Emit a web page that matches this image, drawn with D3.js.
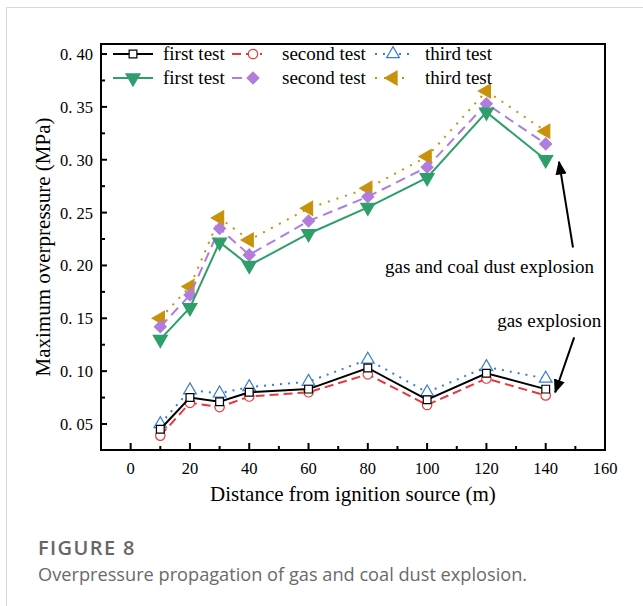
<!DOCTYPE html>
<html>
<head>
<meta charset="utf-8">
<script src="https://cdn.jsdelivr.net/npm/d3@7"></script>
<style>
    body { margin: 0; background: #fff; }
    #card { position: absolute; left: 6px; top: 7px; width: 700px; height: 700px;
            border-left: 1px solid #d9d9d9; border-top: 1px solid #d9d9d9; }
    svg { position: absolute; left: 0; top: 0; }
</style>
</head>
<body>
<div id="card"></div>
<script>
// distances (m)
const distances = [10, 20, 30, 40, 60, 80, 100, 120, 140];
// gas explosion
const gasFirst  = [0.045, 0.075, 0.071, 0.080, 0.083, 0.103, 0.073, 0.098, 0.083];
const gasSecond = [0.039, 0.070, 0.066, 0.076, 0.080, 0.097, 0.068, 0.093, 0.077];
const gasThird  = [0.050, 0.082, 0.079, 0.085, 0.090, 0.111, 0.080, 0.104, 0.093];
// gas and coal dust explosion
const dustFirst  = [0.130, 0.160, 0.222, 0.200, 0.230, 0.255, 0.283, 0.345, 0.300];
const dustSecond = [0.142, 0.172, 0.235, 0.210, 0.242, 0.265, 0.293, 0.353, 0.315];
const dustThird  = [0.150, 0.180, 0.245, 0.224, 0.254, 0.273, 0.303, 0.365, 0.327];

const xTicks = [0, 20, 40, 60, 80, 100, 120, 140, 160];
const xMinor = [10, 30, 50, 70, 90, 110, 130, 150];
const yTicks = [0.05, 0.10, 0.15, 0.20, 0.25, 0.30, 0.35, 0.40];
const yMinor = [0.075, 0.125, 0.175, 0.225, 0.275, 0.325, 0.375];

const series = [
    { name: "third test",  vals: gasThird,   color: "#3b7dd0", dash: "2,6", sym: "triUp",   fill: "#fff" },
    { name: "second test", vals: gasSecond,  color: "#e8383d", dash: "9,5", sym: "circle",  fill: "#fff" },
    { name: "first test",  vals: gasFirst,   color: "#000",    dash: null,  sym: "square",  fill: "#fff" },
    { name: "third test",  vals: dustThird,  color: "#c8920a", dash: "2,7", sym: "triLeft", fill: "#c8920a" },
    { name: "second test", vals: dustSecond, color: "#b07ddc", dash: "10,6", sym: "diamond", fill: "#b07ddc" },
    { name: "first test",  vals: dustFirst,  color: "#2e9e6a", dash: null,  sym: "triDown", fill: "#2e9e6a" }
];

const W = 643, H = 606;
const plot = { left: 101, right: 605, top: 44, bottom: 450 };
const serif = "'Liberation Serif', serif";

const x = d3.scaleLinear().domain([-10, 160]).range([plot.left, plot.right]);
const y = d3.scaleLinear().domain([0.0254, 0.4095]).range([plot.bottom, plot.top]);

const svg = d3.select("body").append("svg").attr("width", W).attr("height", H);

// tvary znacek
function marker(g, sym, color, fill) {
    let p;
    if (sym === "square") {
        p = g.append("path").attr("d", d3.symbol(d3.symbolSquare, 60)());
    } else if (sym === "circle") {
        p = g.append("path").attr("d", d3.symbol(d3.symbolCircle, 70)());
    } else if (sym === "triUp") {
        p = g.append("path").attr("d", d3.symbol(d3.symbolTriangle, 70)());
    } else if (sym === "triDown") {
        p = g.append("path").attr("d", d3.symbol(d3.symbolTriangle, 85)()).attr("transform", "rotate(180)");
    } else if (sym === "triLeft") {
        p = g.append("path").attr("d", d3.symbol(d3.symbolTriangle, 85)()).attr("transform", "rotate(-90)");
    } else {
        p = g.append("path").attr("d", d3.symbol(d3.symbolSquare, 70)()).attr("transform", "rotate(45)");
    }
    p.attr("fill", fill).attr("stroke", color).attr("stroke-width", 1.2);
}

// ticks inside the frame
const ax = svg.append("g").attr("stroke", "#000").attr("stroke-width", 2);
ax.selectAll(".xt").data(xTicks).join("line")
    .attr("x1", d => x(d)).attr("x2", d => x(d))
    .attr("y1", plot.bottom).attr("y2", plot.bottom - 7);
ax.selectAll(".xm").data(xMinor).join("line")
    .attr("x1", d => x(d)).attr("x2", d => x(d))
    .attr("y1", plot.bottom).attr("y2", plot.bottom - 4);
ax.selectAll(".yt").data(yTicks).join("line")
    .attr("x1", plot.left).attr("x2", plot.left + 6)
    .attr("y1", d => y(d)).attr("y2", d => y(d));
ax.selectAll(".ym").data(yMinor).join("line")
    .attr("x1", plot.left).attr("x2", plot.left + 4)
    .attr("y1", d => y(d)).attr("y2", d => y(d));

// tick labels
svg.selectAll(".xl").data(xTicks).join("text")
    .attr("x", d => x(d)).attr("y", plot.bottom + 24)
    .attr("text-anchor", "middle")
    .style("font", `16.5px ${serif}`)
    .text(d => d);
svg.selectAll(".yl").data(yTicks).join("text")
    .attr("x", plot.left - 8).attr("y", d => y(d) + 6)
    .attr("text-anchor", "end")
    .style("font", `16.5px ${serif}`)
    .text(d => d3.format(".2f")(d).replace(".", ". "));

// axis titles
svg.append("text")
    .attr("x", (plot.left + plot.right) / 2).attr("y", plot.bottom + 51)
    .attr("text-anchor", "middle")
    .style("font", `21px ${serif}`)
    .text("Distance from ignition source (m)");
svg.append("text")
    .attr("transform", `translate(50,${(plot.top + plot.bottom) / 2}) rotate(-90)`)
    .attr("text-anchor", "middle")
    .style("font", `21px ${serif}`)
    .text("Maximum overpressure (MPa)");

// lines and points
const line = d3.line().x((d, i) => x(distances[i])).y(d => y(d));
series.forEach(s => {
    svg.append("path")
        .attr("d", line(s.vals))
        .attr("fill", "none")
        .attr("stroke", s.color)
        .attr("stroke-width", 2)
        .attr("stroke-dasharray", s.dash);
    s.vals.forEach((v, i) => {
        const g = svg.append("g").attr("transform", `translate(${x(distances[i])},${y(v)})`);
        marker(g, s.sym, s.color, s.fill);
    });
});

// legend
const legendCols = [113, 232, 375];
const legendW = [40, 30, 36];
const legendMark = [133, 253, 393];
const legendText = [163, 282, 425];
const legendRows = [[2, 1, 0], [5, 4, 3]];
const legendY = [54, 78];
legendRows.forEach((row, r) => {
    row.forEach((si, c) => {
        const s = series[si];
        const ly = legendY[r];
        svg.append("line")
            .attr("x1", legendCols[c]).attr("x2", legendCols[c] + legendW[c])
            .attr("y1", ly).attr("y2", ly)
            .attr("stroke", s.color).attr("stroke-width", 2)
            .attr("stroke-dasharray", s.dash);
        const g = svg.append("g").attr("transform", `translate(${legendMark[c]},${ly})`);
        marker(g, s.sym, s.color, s.fill);
        svg.append("text")
            .attr("x", legendText[c]).attr("y", ly + 6)
            .style("font", `19px ${serif}`)
            .text(s.name);
    });
});

// annotations
svg.append("defs").append("marker")
    .attr("id", "arr")
    .attr("viewBox", "0 0 10 10").attr("refX", 9).attr("refY", 5)
    .attr("markerWidth", 7).attr("markerHeight", 7)
    .attr("orient", "auto")
    .append("path").attr("d", "M0,1 L10,5 L0,9 Z").attr("fill", "#000");

svg.append("line")
    .attr("x1", x(149.2)).attr("y1", y(0.217))
    .attr("x2", x(144.5)).attr("y2", y(0.298))
    .attr("stroke", "#000").attr("stroke-width", 2).attr("marker-end", "url(#arr)");
svg.append("line")
    .attr("x1", x(149.6)).attr("y1", y(0.132))
    .attr("x2", x(143.2)).attr("y2", y(0.080))
    .attr("stroke", "#000").attr("stroke-width", 2).attr("marker-end", "url(#arr)");
svg.append("text")
    .attr("x", x(85.8)).attr("y", y(0.193))
    .style("font", `19px ${serif}`)
    .text("gas and coal dust explosion");
svg.append("text")
    .attr("x", x(158.7)).attr("y", y(0.142))
    .attr("text-anchor", "end")
    .style("font", `19px ${serif}`)
    .text("gas explosion");

// frame
svg.append("rect")
    .attr("x", plot.left).attr("y", plot.top)
    .attr("width", plot.right - plot.left).attr("height", plot.bottom - plot.top)
    .attr("fill", "none").attr("stroke", "#000").attr("stroke-width", 2);

// caption
svg.append("text")
    .attr("x", 38).attr("y", 555)
    .style("font", "600 20px 'Open Sans', sans-serif")
    .style("letter-spacing", "1.4px")
    .attr("fill", "#666")
    .text("FIGURE 8");
svg.append("text")
    .attr("x", 38).attr("y", 581)
    .style("font", "18.2px 'Open Sans', sans-serif")
    .attr("fill", "#6a6a6a")
    .text("Overpressure propagation of gas and coal dust explosion.");
</script>
</body>
</html>
